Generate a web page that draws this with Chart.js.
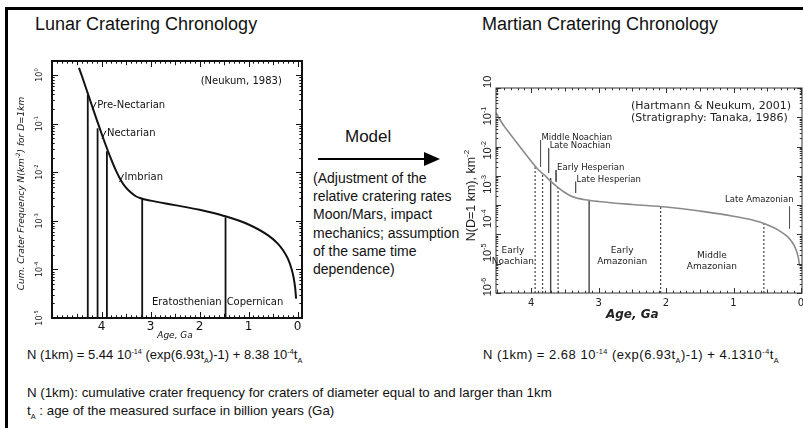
<!DOCTYPE html>
<html>
<head>
<meta charset="utf-8">
<script src="https://cdn.jsdelivr.net/npm/chart.js@4.4.1/dist/chart.umd.min.js"></script>
<style>
  body { margin: 0; background: #fff; }
  #slide { position: relative; width: 803px; height: 428px; overflow: hidden; font-family: "Liberation Sans", Arial, sans-serif; color: #111; }
  #frame { position: absolute; left: 5px; top: 7px; width: 900px; height: 500px; border-top: 3px solid #000; border-left: 3px solid #000; }
  .txt { position: absolute; white-space: nowrap; line-height: 1; }
  .title { font-size: 18px; }
  .eq { font-size: 13px; }
  .note { font-size: 13.3px; }
  canvas { position: absolute; }
  sup, sub { font-size: 56%; line-height: 0; }
</style>
</head>
<body>
<div id="slide">
  <div id="frame"></div>
  <div class="txt title" style="left:35px;top:15px">Lunar Cratering Chronology</div>
  <div class="txt title" style="left:482px;top:15px">Martian Cratering Chronology</div>
  <div class="txt" style="left:345px;top:128px;font-size:17px">Model</div>
  <svg style="position:absolute;left:310px;top:150px" width="140" height="20">
    <line x1="8" y1="9" x2="118" y2="9" stroke="#000" stroke-width="2"/>
    <polygon points="130,9 114,2 114,16" fill="#000"/>
  </svg>
  <div class="txt" style="left:313px;top:169px;font-size:14px;line-height:18.2px">(Adjustment of the<br>relative cratering rates<br>Moon/Mars, impact<br>mechanics; assumption<br>of the same time<br>dependence)</div>
  <div class="txt eq" style="left:27px;top:348px">N (1km) = 5.44 10<sup>-14</sup> (exp(6.93t<sub>A</sub>)-1) + 8.38 10<sup>-4</sup>t<sub>A</sub></div>
  <div class="txt eq" style="left:483px;top:348px;letter-spacing:0.5px">N (1km) = 2.68 10<sup>-14</sup> (exp(6.93t<sub>A</sub>)-1) + 4.1310<sup>-4</sup>t<sub>A</sub></div>
  <div class="txt note" style="left:27px;top:386px">N (1km): cumulative crater frequency for craters of diameter equal to and larger than 1km</div>
  <div class="txt note" style="left:27px;top:404px">t<sub>A</sub> : age of the measured surface in billion years (Ga)</div>
  <canvas id="lunar" width="330" height="310" style="left:0;top:40px"></canvas>
  <canvas id="mars" width="363" height="262" style="left:440px;top:60px"></canvas>
</div>
<script>
// Lunar chronology (Neukum, 1983)
const lunarAges = [4.46, 4.4, 4.3, 4.2, 4.1, 4.0, 3.9, 3.8, 3.7, 3.6, 3.5, 3.4, 3.3, 3.2, 3.0, 2.5, 2.0, 1.5, 1.0, 0.6, 0.4, 0.3, 0.2, 0.12, 0.08, 0.05, 0.03];
const lunarN = [1.40, 0.953, 0.479, 0.241, 0.122, 0.0628, 0.0330, 0.0181, 0.0105, 0.0067, 0.0048, 0.0038, 0.0032, 0.0029, 0.0026, 0.0021, 0.00168, 0.00126, 0.00084, 0.0005, 0.000335, 0.00025, 0.000168, 0.0001, 0.000067, 0.000042, 0.000025];
const lunarBoundaryAges = [4.28, 4.08, 3.89, 3.17, 1.47];
const lunarBoundaryN = [0.39, 0.08, 0.027, 0.0028, 0.00118];
const lunarPeriodNames = ['Pre-Nectarian', 'Nectarian', 'Imbrian'];
const lunarPeriodAges = [4.15, 3.95, 3.59];
const lunarPeriodN = [0.23, 0.059, 0.0076];
const lunarSystemNames = ['Eratosthenian', 'Copernican'];
const lunarSystemAges = [2.26, 0.87];
const lunarXTicks = [4, 3, 2, 1, 0];
const lunarYExps = [0, -1, -2, -3, -4, -5];

// Martian chronology (Hartmann & Neukum, 2001; Tanaka, 1986)
const marsAges = [4.52, 4.4, 4.3, 4.2, 4.1, 4.0, 3.9, 3.8, 3.7, 3.6, 3.5, 3.4, 3.3, 3.2, 3.0, 2.5, 2.0, 1.5, 1.0, 0.6, 0.4, 0.3, 0.2, 0.12, 0.07, 0.04, 0.02];
const marsN = [1.4, 0.50, 0.25, 0.125, 0.063, 0.032, 0.0168, 0.0105, 0.0062, 0.0040, 0.0027, 0.0020, 0.0017, 0.00152, 0.00133, 0.00105, 0.00086, 0.00063, 0.00042, 0.00026, 0.000168, 0.000125, 0.000084, 0.00005, 0.000029, 0.0000165, 0.0000083];
const marsBoundaryAges = [3.94, 3.83, 3.71, 3.60, 3.14, 2.08, 0.55];
const marsBoundaryN = [0.0206, 0.0123, 0.0085, 0.0043, 0.0015, 0.00093, 0.00025];
const marsBoundarySolid = [false, false, true, false, true, false, false];
const marsEpochNames = ['Middle Noachian', 'Late Noachian', 'Early Hesperian', 'Late Hesperian', 'Late Amazonian'];
const marsEpochAges = [3.86, 3.74, 3.63, 3.34, 0.17];
const marsEpochTopN = [0.168, 0.089, 0.0158, 0.0063, 0.00089];
const marsEpochBottomN = [0.0206, 0.0126, 0.0063, 0.0026, 0.00016];
const marsUnitNames = [['Early', 'Noachian'], ['Early', 'Amazonian'], ['Middle', 'Amazonian']];
const marsUnitAges = [4.27, 2.65, 1.32];
const marsUnitN = [2.9e-5, 2.9e-5, 1.95e-5];
const marsXTicks = [4, 3, 2, 1, 0];
const marsYLabelValues = [1, 0.1, 0.01, 0.001, 0.0001, 0.00001, 0.000001];
const marsYLabelSups = ['', '-1', '-2', '-3', '-4', '-5', '-6'];

const FONT = '"DejaVu Sans", sans-serif';
const ARIAL = '"Liberation Sans", Arial, sans-serif';

function seg(ctx, x1, y1, x2, y2) {
  ctx.beginPath();
  ctx.moveTo(x1, y1);
  ctx.lineTo(x2, y2);
  ctx.stroke();
}

function toPoints(ages, values) {
  return ages.map((t, i) => ({ x: t, y: values[i] }));
}

// frame with inward ticks on all four sides
function drawFrame(chart, color, width, majorLen) {
  const { ctx, chartArea: a, scales: { x, y } } = chart;
  ctx.save();
  ctx.strokeStyle = color;
  ctx.lineWidth = 1;
  for (let i = 0; i <= 50; i++) {
    const v = i / 10;
    if (v < x.min || v > x.max) continue;
    const px = Math.round(x.getPixelForValue(v)) + 0.5;
    const len = i % 10 === 0 ? majorLen : (i % 5 === 0 ? majorLen * 0.7 : majorLen * 0.45);
    seg(ctx, px, a.bottom, px, a.bottom - len);
    seg(ctx, px, a.top, px, a.top + len);
  }
  for (let e = -7; e <= 1; e++) {
    for (let m = 1; m < 10; m++) {
      const v = m * Math.pow(10, e);
      if (v < y.min * 0.999 || v > y.max * 1.001) continue;
      const py = Math.round(y.getPixelForValue(v)) + 0.5;
      const len = m === 1 ? majorLen : majorLen * 0.45;
      seg(ctx, a.left, py, a.left + len, py);
      seg(ctx, a.right, py, a.right - len, py);
    }
  }
  ctx.lineWidth = width;
  ctx.strokeRect(a.left, a.top, a.right - a.left, a.bottom - a.top);
  ctx.restore();
}

// rotated text (reads bottom to top) with optional superscripts
function drawRotated(ctx, parts, cx, cy, size, style, family) {
  ctx.save();
  ctx.translate(cx, cy);
  ctx.rotate(-Math.PI / 2);
  ctx.textBaseline = 'middle';
  ctx.textAlign = 'left';
  const sup = size * 0.65;
  let total = 0;
  const widths = parts.map(([t, s]) => {
    ctx.font = style + (s ? sup : size) + 'px ' + family;
    const w = ctx.measureText(t).width;
    total += w;
    return w;
  });
  let xx = -total / 2;
  parts.forEach(([t, s], i) => {
    ctx.font = style + (s ? sup : size) + 'px ' + family;
    ctx.fillText(t, xx, s ? -size * 0.4 : 0);
    xx += widths[i];
  });
  ctx.restore();
}

const lunarDecor = {
  id: 'lunarDecor',
  afterDatasetsDraw(chart) {
    const { ctx, chartArea: a, scales: { x, y } } = chart;
    drawFrame(chart, '#111', 2, 6);
    ctx.save();
    ctx.fillStyle = '#111';
    ctx.strokeStyle = '#111';
    ctx.textAlign = 'center';
    ctx.textBaseline = 'middle';
    ctx.font = '12px ' + FONT;
    lunarXTicks.forEach(v => ctx.fillText(String(v), x.getPixelForValue(v), a.bottom + 9));
    ctx.font = 'italic 9px ' + FONT;
    ctx.fillText('Age, Ga', x.getPixelForValue(2.5), a.bottom + 18);
    lunarYExps.forEach(e => drawRotated(ctx, [['10', false], [String(e), true]], a.left - 12, y.getPixelForValue(Math.pow(10, e)), 8, '', FONT));
    drawRotated(ctx, [['Cum. Crater Frequency N(km', false], ['-2', true], [') for D=1km', false]], a.left - 30, (a.top + a.bottom) / 2 + 4, 9, 'italic ', FONT);

    ctx.font = '10px ' + FONT;
    ctx.fillText('(Neukum, 1983)', x.getPixelForValue(1.15), y.getPixelForValue(0.73));
    lunarSystemNames.forEach((name, i) => ctx.fillText(name, x.getPixelForValue(lunarSystemAges[i]), a.bottom - 16));
    ctx.textAlign = 'left';
    ctx.lineWidth = 1;
    lunarPeriodNames.forEach((name, i) => {
      const px = x.getPixelForValue(lunarPeriodAges[i]);
      const py = y.getPixelForValue(lunarPeriodN[i]);
      seg(ctx, px - 2, py + 4, px + 2, py - 4);
      ctx.fillText(name, px + 3, py - 1);
    });
    ctx.restore();
  }
};

const marsDecor = {
  id: 'marsDecor',
  afterDatasetsDraw(chart) {
    const { ctx, chartArea: a, scales: { x, y, yLab } } = chart;
    drawFrame(chart, '#333', 1, 5);
    ctx.save();
    ctx.fillStyle = '#222';
    ctx.textAlign = 'center';
    ctx.textBaseline = 'middle';
    ctx.font = '10px ' + FONT;
    marsXTicks.forEach(v => ctx.fillText(String(v), x.getPixelForValue(v), a.bottom + 10));
    ctx.font = 'italic bold 12px ' + FONT;
    ctx.fillText('Age, Ga', x.getPixelForValue(2.5), a.bottom + 22);
    marsYLabelValues.forEach((v, i) => drawRotated(ctx, [['10', false], [marsYLabelSups[i], true]], a.left - 8, yLab.getPixelForValue(v), 11, '', ARIAL));
    drawRotated(ctx, [['N(D=1 km), km', false], ['-2', true]], a.left - 24, (a.top + a.bottom) / 2 + 5, 12.5, '', ARIAL);

    ctx.font = '11px ' + FONT;
    ctx.textAlign = 'left';
    ctx.fillText('(Hartmann & Neukum, 2001)', x.getPixelForValue(2.52), y.getPixelForValue(2.43));
    ctx.fillText('(Stratigraphy: Tanaka, 1986)', x.getPixelForValue(2.52), y.getPixelForValue(0.92));

    ctx.font = '8.5px ' + FONT;
    marsEpochNames.forEach((name, i) => {
      const px = x.getPixelForValue(marsEpochAges[i]);
      const py = y.getPixelForValue(marsEpochTopN[i]);
      if (i === marsEpochNames.length - 1) {
        ctx.textAlign = 'right';
        ctx.fillText(name, px + 4, py - 7);
      } else {
        ctx.textAlign = 'left';
        ctx.fillText(name, px + 1, py - 2);
      }
    });

    ctx.font = '9px ' + FONT;
    ctx.textAlign = 'center';
    marsUnitNames.forEach((lines, i) => {
      const px = x.getPixelForValue(marsUnitAges[i]);
      const py = y.getPixelForValue(marsUnitN[i]);
      lines.forEach((line, j) => ctx.fillText(line, px, py + j * 11));
    });
    ctx.restore();
  }
};

const lunarDatasets = [{
  data: toPoints(lunarAges, lunarN),
  borderColor: '#111',
  borderWidth: 2,
  pointRadius: 0,
  cubicInterpolationMode: 'monotone'
}].concat(lunarBoundaryAges.map((t, i) => ({
  data: [{ x: t, y: 1e-5 }, { x: t, y: lunarBoundaryN[i] }],
  borderColor: '#111',
  borderWidth: 1.8,
  pointRadius: 0
})));

new Chart(document.getElementById('lunar'), {
  type: 'line',
  data: { datasets: lunarDatasets },
  options: {
    responsive: false,
    animation: false,
    devicePixelRatio: 1,
    layout: { padding: { left: 52, top: 21, right: 28, bottom: 32 } },
    plugins: { legend: { display: false }, tooltip: { enabled: false } },
    scales: {
      x: { type: 'linear', display: false, reverse: true, min: -0.09, max: 5.01 },
      y: { type: 'logarithmic', display: false, min: 1e-5, max: 1.94 }
    }
  },
  plugins: [lunarDecor]
});

const marsDatasets = [{
  data: toPoints(marsAges, marsN),
  borderColor: '#8a8a8a',
  borderWidth: 1.6,
  pointRadius: 0,
  cubicInterpolationMode: 'monotone'
}].concat(marsBoundaryAges.map((t, i) => ({
  data: [{ x: t, y: 1e-6 }, { x: t, y: marsBoundaryN[i] }],
  borderColor: '#444',
  borderWidth: marsBoundarySolid[i] ? 1.4 : 1.2,
  borderDash: marsBoundarySolid[i] ? [] : [2, 2],
  pointRadius: 0
}))).concat(marsEpochAges.map((t, i) => ({
  data: [{ x: t, y: marsEpochTopN[i] }, { x: t, y: marsEpochBottomN[i] }],
  borderColor: '#555',
  borderWidth: 1,
  pointRadius: 0
})));

new Chart(document.getElementById('mars'), {
  type: 'line',
  data: { datasets: marsDatasets },
  options: {
    responsive: false,
    animation: false,
    devicePixelRatio: 1,
    layout: { padding: { left: 56, top: 28, right: 1, bottom: 29 } },
    plugins: { legend: { display: false }, tooltip: { enabled: false } },
    scales: {
      x: { type: 'linear', display: false, reverse: true, min: -0.015, max: 4.52 },
      y: { type: 'logarithmic', display: false, min: 1e-6, max: 10 },
      yLab: { type: 'logarithmic', display: false, min: Math.pow(10, -6.175), max: Math.pow(10, -0.18) }
    }
  },
  plugins: [marsDecor]
});
</script>
</body>
</html>
